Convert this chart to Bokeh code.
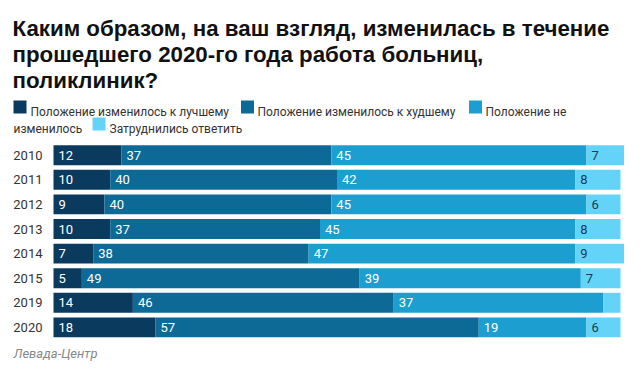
import numpy as np
from bokeh.plotting import figure
from bokeh.models import ColumnDataSource, Range1d
from bokeh.core.properties import value
from bokeh.embed import file_html
from bokeh.resources import INLINE

# ---- data ----
years = ["2010", "2011", "2012", "2013", "2014", "2015", "2019", "2020"]
better = [12, 10, 9, 10, 7, 5, 14, 18]
worse = [37, 40, 40, 37, 38, 49, 46, 57]
same = [45, 42, 45, 45, 47, 39, 37, 19]
hard = [7, 8, 6, 8, 9, 7, 3, 6]
series_names = ["Положение изменилось к лучшему", "Положение изменилось к худшему",
                "Положение не изменилось", "Затруднились ответить"]
title_lines = ["Каким образом, на ваш взгляд, изменилась в течение",
               "прошедшего 2020-го года работа больниц,",
               "поликлиник?"]
source_text = "Левада-Центр"

# ---- style / layout ----
colors = ["#0a3b5f", "#0d6a96", "#1c9fd0", "#63d3f8"]
label_colors = ["#ffffff", "#ffffff", "#ffffff", "#1d3a50"]
W, H = 624, 362
x0_px, unit_px = 53.0, 5.67           # where 0 % sits, pixels per percent
row0_px, row_px = 154.7, 24.6         # centre of first row from top, row spacing
bar_h = 0.81
FONT = "Roboto"

x_start = -x0_px / unit_px
x_end = x_start + W / unit_px
y_top = -row0_px / row_px
y_bottom = (H - row0_px) / row_px

p = figure(width=W, height=H, output_backend="svg", toolbar_location=None,
           x_range=Range1d(x_start, x_end), y_range=Range1d(y_bottom, y_top),
           x_axis_location=None, y_axis_location=None, title=None,
           min_border=0, tools="")
p.outline_line_color = None
p.grid.visible = False
p.background_fill_color = "white"
p.border_fill_color = "white"
p.extra_x_ranges = {"px": Range1d(0, W)}
p.extra_y_ranges = {"px": Range1d(H, 0)}

idx = np.arange(len(years))
series = [better, worse, same, hard]
left = np.zeros(len(years))
for k, vals in enumerate(series):
    vals = np.array(vals, dtype=float)
    right = left + vals
    src = ColumnDataSource(dict(y=idx, left=left, right=right, v=vals,
                                t=[str(int(v)) if v >= 4 else "" for v in vals]))
    p.hbar(y="y", left="left", right="right", height=bar_h, source=src,
           fill_color=colors[k], line_color=None)
    p.text(x="left", y="y", text="t", source=src, x_offset=5,
           text_font=value(FONT), text_font_size="13px", text_color=label_colors[k],
           text_baseline="middle", text_align="left")
    left = right

# year labels
ysrc = ColumnDataSource(dict(y=idx, x=[42] * len(years), t=years))
p.text(x="x", y="y", text="t", source=ysrc, x_range_name="px",
       text_font=value(FONT), text_font_size="13px", text_color="#333333",
       text_baseline="middle", text_align="right")

# title
tsrc = ColumnDataSource(dict(x=[12] * 3, y=[28, 54, 80], t=title_lines))
p.text(x="x", y="y", text="t", source=tsrc, x_range_name="px", y_range_name="px",
       text_font=value("Liberation Sans"), text_font_style="bold",
       text_font_size="22.3px", text_color="#111111", text_baseline="alphabetic")

# legend (wrapped like the original)
sq_x = [19.5, 247, 475, 98.5]
sq_y = [106.5, 106.5, 106.5, 123.5]
p.rect(x=sq_x, y=sq_y, width=13, height=13, x_range_name="px", y_range_name="px",
       fill_color=colors, line_color=None)
leg_txt = [series_names[0], series_names[1], "Положение не", "изменилось", series_names[3]]
leg_x = [30, 257, 485, 13, 109]
leg_y = [111, 111, 111, 128, 128]
p.text(x=leg_x, y=leg_y, text=leg_txt, x_range_name="px", y_range_name="px",
       text_font=value(FONT), text_font_size="12px", text_color="#333333",
       text_baseline="alphabetic")

# source
p.text(x=[13], y=[353], text=[source_text], x_range_name="px", y_range_name="px",
       text_font=value(FONT), text_font_size="13px", text_font_style="italic",
       text_color="#888888", text_baseline="alphabetic")

open("out.html", "w").write(file_html(p, INLINE))
